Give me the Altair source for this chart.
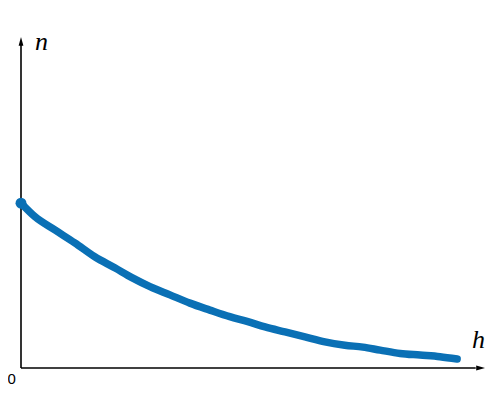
import altair as alt
import pandas as pd

# curve
h_vals = [0.0, 0.30, 0.73, 1.16, 1.59, 2.03, 2.39, 2.78, 3.21, 3.64, 4.07, 4.50,
          4.89, 5.26, 5.69, 6.12, 6.55, 6.98, 7.37, 7.74, 8.17, 8.60, 9.03, 9.40]
n_vals = [4.98, 4.57, 4.17, 3.78, 3.36, 3.02, 2.73, 2.46, 2.21, 1.96, 1.75, 1.55,
          1.40, 1.24, 1.09, 0.94, 0.79, 0.69, 0.63, 0.54, 0.44, 0.39, 0.34, 0.27]

curve = pd.DataFrame({"h": h_vals, "n": n_vals})

BLUE = "#0a70b5"
xs = alt.Scale(domain=[0, 10], nice=False, zero=False)
ys = alt.Scale(domain=[0, 10], nice=False, zero=False)


def X(f="h"):
    return alt.X(f"{f}:Q", scale=xs, axis=None, title=None)


def Y(f="n"):
    return alt.Y(f"{f}:Q", scale=ys, axis=None, title=None)


line = alt.Chart(curve).mark_line(
    color=BLUE, strokeWidth=7.5, strokeCap="round", interpolate="monotone"
).encode(x=X(), y=Y())

start = alt.Chart(curve.iloc[[0]]).mark_point(
    filled=True, color=BLUE, size=120, opacity=1
).encode(x=X(), y=Y())

yaxis_df = pd.DataFrame({"h": [0.0], "n": [0.0], "n2": [9.8]})
xaxis_df = pd.DataFrame({"h": [0.0], "h2": [9.8], "n": [0.0]})

yaxis = alt.Chart(yaxis_df).mark_rule(color="black", strokeWidth=1.6).encode(
    x=X(), y=Y(), y2="n2:Q"
)
xaxis = alt.Chart(xaxis_df).mark_rule(color="black", strokeWidth=1.6).encode(
    x=X(), x2="h2:Q", y=Y()
)
yarrow = alt.Chart(pd.DataFrame({"h": [0.0], "n": [10.0]})).mark_point(
    shape="M0,0L-0.6,2.2L0.6,2.2Z", filled=True, color="black", size=64, opacity=1
).encode(x=X(), y=Y())
xarrow = alt.Chart(pd.DataFrame({"h": [10.0], "n": [0.0]})).mark_point(
    shape="M0,0L-2.2,-0.6L-2.2,0.6Z", filled=True, color="black", size=64, opacity=1
).encode(x=X(), y=Y())

n_label = alt.Chart(pd.DataFrame({"h": [0.30], "n": [9.85], "t": ["n"]})).mark_text(
    font="Liberation Serif", fontStyle="italic", fontSize=26,
    align="left", baseline="middle", color="black"
).encode(x=X(), y=Y(), text="t:N")
h_label = alt.Chart(pd.DataFrame({"h": [9.86], "n": [0.85], "t": ["h"]})).mark_text(
    font="Liberation Serif", fontStyle="italic", fontSize=26,
    align="center", baseline="middle", color="black"
).encode(x=X(), y=Y(), text="t:N")
zero_label = alt.Chart(pd.DataFrame({"h": [-0.2], "n": [-0.32], "t": ["0"]})).mark_text(
    font="Liberation Sans", fontSize=15,
    align="center", baseline="middle", color="black"
).encode(x=X(), y=Y(), text="t:N")

chart = alt.layer(
    yaxis, xaxis, yarrow, xarrow, line, start, n_label, h_label, zero_label
).properties(
    width=464, height=331,
    autosize=alt.AutoSizeParams(type="none"),
    padding={"left": 13, "top": 29, "right": 0, "bottom": 28},
).configure_view(strokeWidth=0)

chart.save("out.html", embed_options={"renderer": "svg", "actions": False})
